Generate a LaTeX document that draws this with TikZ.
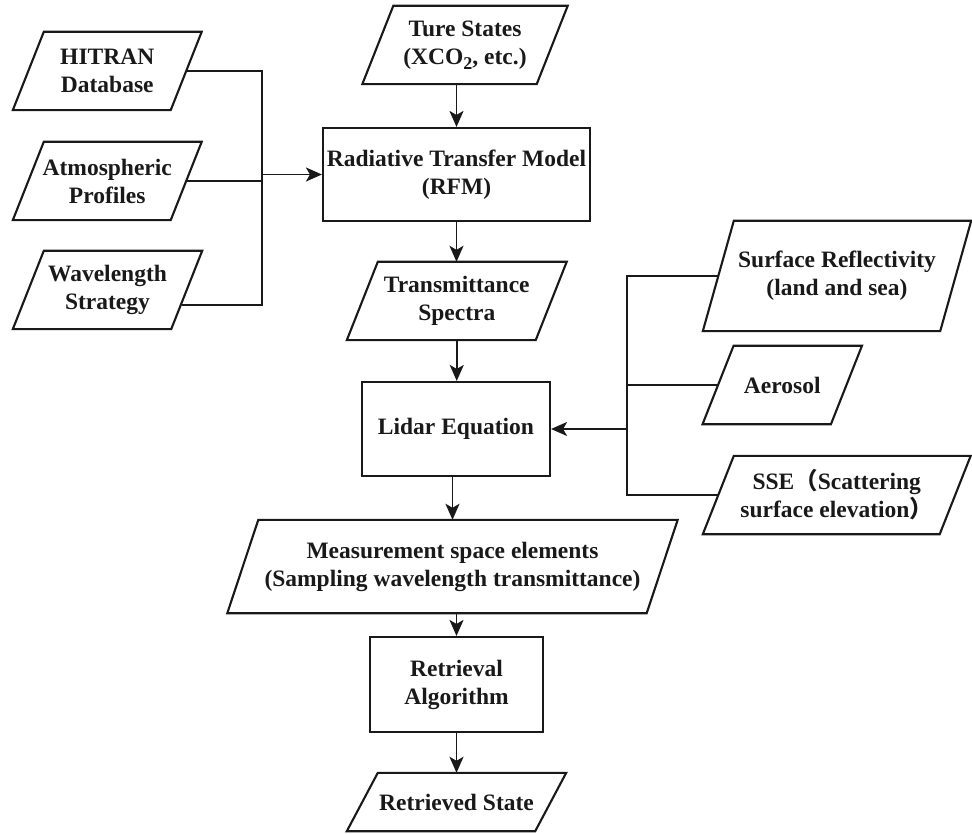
\documentclass[tikz,border=0pt]{standalone}
\usepackage{fontspec}
\setmainfont{Liberation Serif}
\newfontfamily\cjkfont{Noto Sans CJK SC}
\usetikzlibrary{arrows.meta,calc}
\definecolor{ink}{RGB}{25,25,25}
\tikzset{
  txt/.style={align=center, inner sep=0pt, font=\fontsize{23.5}{28}\selectfont\bfseries, text=ink},
  databox/.style={txt, draw=none},
  procbox/.style={txt, draw=ink, line width=2.1pt},
  boxline/.style={draw=ink, line width=2.1pt, line join=miter},
  conn/.style={draw=ink, line width=1.9pt},
  arr/.style={conn, -{Stealth[length=16pt,width=14pt,inset=4pt]}},
}
\newcommand\sub[1]{\raisebox{-5pt}{\fontsize{18}{18}\selectfont #1}}
\begin{document}
\begin{tikzpicture}[x=1pt,y=-1pt]
\useasboundingbox (0,0) rectangle (972,834);

% data (parallelogram) nodes
\node[databox, minimum width=157.5pt, minimum height=78pt] (hitran) at (107.25,71) {HITRAN\\Database};
\node[databox, minimum width=157.5pt, minimum height=78pt] (atmos) at (107.25,181) {Atmospheric\\Profiles};
\node[databox, minimum width=158pt, minimum height=78pt] (wave) at (107.5,290) {Wavelength\\Strategy};
\node[databox, minimum width=174pt, minimum height=78pt] (ture) at (465,45) {Ture States\\(XCO\sub{2}, etc.)};
\node[databox, minimum width=188.5pt, minimum height=78pt] (trans) at (456.75,301) {Transmittance\\Spectra};
\node[databox, minimum width=419pt, minimum height=93pt] (meas) at (452.5,566.5) {Measurement space elements\\(Sampling wavelength transmittance)};
\node[databox, minimum width=188pt, minimum height=58pt] (rstate) at (456.5,802) {Retrieved State};
\node[databox, minimum width=237pt, minimum height=110pt] (surf) at (837,276) {Surface Reflectivity\\(land and sea)};
\node[databox, minimum width=128pt, minimum height=78pt] (aero) at (782.25,385) {Aerosol};
\node[databox, minimum width=236.5pt, minimum height=78pt] (sse) at (836.75,495) {SSE{\cjkfont （}Scattering\\surface elevation{\cjkfont ）}};

\foreach \n in {hitran,atmos,wave,ture,trans,meas,rstate,surf,aero,sse}{
  \draw[boxline] ([xshift=15.5pt]\n.north west) -- ([xshift=15.5pt]\n.north east)
    -- ([xshift=-15.5pt]\n.south east) -- ([xshift=-15.5pt]\n.south west) -- cycle;
}

% process (rectangle) nodes
\node[procbox, minimum width=267pt, minimum height=93pt] (rtm) at (456.5,174.5) {Radiative Transfer Model\\(RFM)};
\node[procbox, minimum width=188pt, minimum height=94pt] (lidar) at (456,429) {Lidar Equation};
\node[procbox, minimum width=173pt, minimum height=95pt] (retr) at (456.5,684.5) {Retrieval\\Algorithm};

% left bus
\coordinate (lbus) at (262,174.5);
\coordinate (wvp) at (181.5,305);
\draw[conn] (hitran.east) -| (lbus);
\draw[conn] (wvp) -| (lbus);
\draw[conn] (atmos.east) -- (atmos.east -| lbus);
\draw[arr] (lbus) -- (rtm.west);

% right bus
\coordinate (rbus) at (627,429);
\draw[conn] (surf.west) -| (rbus);
\draw[conn] (sse.west) -| (rbus);
\draw[conn] (aero.west) -- (aero.west -| rbus);
\draw[arr] (rbus) -- (lidar.east);

% main column
\draw[arr] (ture.south -| rtm.north) -- (rtm.north);
\draw[arr] (rtm.south) -- (rtm.south |- trans.north);
\draw[arr] (trans.south) -- (trans.south |- lidar.north);
\draw[arr] (lidar.south -| meas.north) -- (meas.north);
\draw[arr] (meas.south -| retr.north) -- (retr.north);
\draw[arr] (retr.south) -- (retr.south |- rstate.north);
\end{tikzpicture}
\end{document}
